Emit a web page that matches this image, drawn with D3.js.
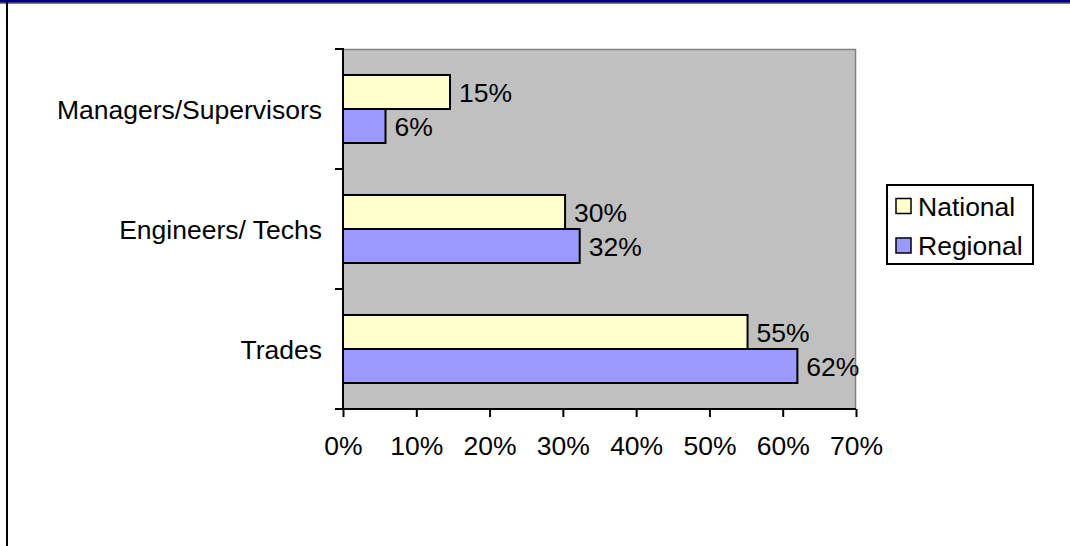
<!DOCTYPE html>
<html>
<head>
<meta charset="utf-8">
<script src="https://cdn.jsdelivr.net/npm/d3@7/dist/d3.min.js"></script>
<style>
  html, body { margin: 0; padding: 0; background: #fff; }
  svg { display: block; font-family: "Liberation Sans", Arial, sans-serif; }
</style>
</head>
<body>
<svg id="chart" width="1070" height="546"></svg>
<script>
const categories = ["Managers/Supervisors", "Engineers/ Techs", "Trades"];
const seriesNames = ["National", "Regional"];
const national = [0.146, 0.303, 0.552];
const regional = [0.058, 0.323, 0.620];
const xTicks = [0, 0.1, 0.2, 0.3, 0.4, 0.5, 0.6, 0.7];
const colors = ["#FFFFCC", "#9999FF"];

(function () {
const svg = d3.select("#chart");
const W = 1070, H = 546;
const pL = 343, pR = 856, pT = 49, pB = 409;
const fontSize = 26.5;

// outer frame
svg.append("rect").attr("x", 0).attr("y", 0).attr("width", W).attr("height", 2.5).attr("fill", "#000080");
svg.append("line").attr("x1", 0).attr("x2", W).attr("y1", 3).attr("y2", 3).attr("stroke", "#000").attr("stroke-width", 1);
svg.append("line").attr("x1", 7).attr("x2", 7).attr("y1", 2).attr("y2", H).attr("stroke", "#000").attr("stroke-width", 2);

const x = d3.scaleLinear().domain([0, 0.7]).range([pL, pR]);
const y = d3.scaleBand().domain(categories).range([pT, pB]).paddingInner(0).paddingOuter(0);

// plot background
svg.append("rect").attr("x", pL).attr("y", pT).attr("width", pR - pL).attr("height", pB - pT).attr("fill", "#C0C0C0");
svg.append("line").attr("x1", pL).attr("x2", pR).attr("y1", pT + 0.5).attr("y2", pT + 0.5).attr("stroke", "#808080").attr("stroke-width", 1.5);
svg.append("line").attr("x1", pR - 0.5).attr("x2", pR - 0.5).attr("y1", pT).attr("y2", pB).attr("stroke", "#808080").attr("stroke-width", 1.5);

const barH = 34;
const series = [national, regional];

series.forEach((vals, si) => {
  const g = svg.append("g");
  g.selectAll("rect").data(vals).enter().append("rect")
    .attr("x", x(0))
    .attr("y", (d, i) => y(categories[i]) + y.bandwidth() / 2 - barH + si * barH)
    .attr("width", d => x(d) - x(0))
    .attr("height", barH)
    .attr("fill", colors[si])
    .attr("stroke", "#000")
    .attr("stroke-width", 2);
  g.selectAll("text").data(vals).enter().append("text")
    .attr("x", d => x(d) + 9)
    .attr("y", (d, i) => y(categories[i]) + y.bandwidth() / 2 - barH + si * barH + barH / 2)
    .attr("dy", "0.36em")
    .attr("font-size", fontSize)
    .attr("fill", "#000")
    .text(d => d3.format(".0%")(d));
});

// x axis
const xAxis = d3.axisBottom(x).tickValues(xTicks).tickFormat(d3.format(".0%")).tickSize(8).tickPadding(19);
const gx = svg.append("g").attr("transform", `translate(0,${pB})`).call(xAxis);
gx.select(".domain").attr("stroke", "#000").attr("stroke-width", 2).attr("d", `M${pL - 8},0H${pR}`);
gx.selectAll(".tick line").attr("stroke", "#000").attr("stroke-width", 2);
gx.selectAll(".tick text").attr("font-size", fontSize).attr("font-family", "Liberation Sans, Arial, sans-serif").attr("fill", "#000");

// y axis
const yTickPos = [pT, pT + y.bandwidth(), pT + 2 * y.bandwidth(), pB];
const gy = svg.append("g");
gy.append("line").attr("x1", pL).attr("x2", pL).attr("y1", pT - 1).attr("y2", pB).attr("stroke", "#000").attr("stroke-width", 2);
gy.selectAll("line.t").data(yTickPos).enter().append("line").attr("class", "t")
  .attr("x1", pL - 8).attr("x2", pL).attr("y1", d => d).attr("y2", d => d)
  .attr("stroke", "#000").attr("stroke-width", 2);
gy.selectAll("text").data(categories).enter().append("text")
  .attr("x", pL - 21)
  .attr("y", d => y(d) + y.bandwidth() / 2)
  .attr("dy", "0.36em")
  .attr("text-anchor", "end")
  .attr("font-size", fontSize)
  .attr("fill", "#000")
  .text(d => d);

// legend
const lg = svg.append("g");
lg.append("rect").attr("x", 887).attr("y", 185).attr("width", 146).attr("height", 79)
  .attr("fill", "#fff").attr("stroke", "#000").attr("stroke-width", 2);
seriesNames.forEach((s, i) => {
  const cy = 206 + i * 39.5;
  lg.append("rect").attr("x", 896).attr("y", cy - 7.5).attr("width", 15).attr("height", 15)
    .attr("fill", colors[i]).attr("stroke", "#000").attr("stroke-width", 1.5);
  lg.append("text").attr("x", 918).attr("y", cy).attr("dy", "0.36em")
    .attr("font-size", fontSize).attr("fill", "#000").text(s);
});
})();
</script>
</body>
</html>
